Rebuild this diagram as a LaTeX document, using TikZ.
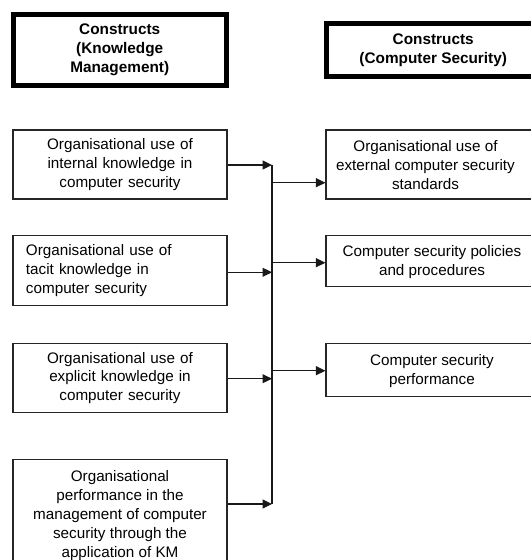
\documentclass[tikz,border=0pt]{standalone}
\usepackage{fontspec}
\setmainfont{Liberation Sans}
\usetikzlibrary{arrows.meta}
\begin{document}
\begin{tikzpicture}[x=1bp,y=-1bp,
  txt/.style={font=\fontsize{15.3}{19}\selectfont, align=center, inner sep=0pt},
  box/.style={draw=black!85, line width=1.1bp, minimum height=#1, inner ysep=0pt},
  lbox/.style={box=#1, minimum width=214bp, text width=188bp, inner xsep=13bp,
    font=\fontsize{15.3}{19}\selectfont, align=center},
  hdr/.style={draw=black, line width=5bp, inner sep=0pt,
    font=\fontsize{15.4}{19}\selectfont\bfseries, align=center},
  conn/.style={draw=black!90, line width=1.1bp},
  arr/.style={conn, -{Triangle[length=9.5bp,width=9bp]}}]
\useasboundingbox (0,0) rectangle (531,560);
\clip (0,0) rectangle (531,560);
\fill[white] (0,0) rectangle (531,560);

% headers
\node[hdr, minimum width=213bp, minimum height=71.6bp] (HL) at (119.7,50)
  {Constructs\\(Knowledge\\Management)};
\node[hdr, minimum width=213.5bp, minimum height=52.6bp] (HR) at (433.2,49.8)
  {Constructs\\(Computer Security)};

% left boxes
\node[lbox=69bp] (L1) at (120,164.5)
  {Organisational use of\\internal knowledge in\\computer security};
\node[lbox=70bp, align=left] (L2) at (120,270.7)
  {Organisational use of\\tacit knowledge in\\computer security};
\node[lbox=69.5bp] (L3) at (120,378)
  {Organisational use of\\explicit knowledge in\\computer security};
\node[box=120.5bp, minimum width=214bp] (L4) at (120,519.75) {};
\node[txt] (L4t) at (120,515.5)
  {Organisational\\performance in the\\management of computer\\security through the\\application of KM};

% right boxes
\node[box=69bp, minimum width=219bp] (R1) at (435.5,164.5) {};
\node[txt] (R1t) at (425.5,165)
  {Organisational use of\\external computer security\\standards};
\node[box=51bp, minimum width=219bp] (R2) at (435.5,261.2) {};
\node[txt] (R2t) at (432,262)
  {Computer security policies\\and procedures};
\node[box=52.7bp, minimum width=219bp] (R3) at (435.5,369.7) {};
\node[txt] (R3t) at (432,371)
  {Computer security\\performance};

% bus
\coordinate (b1) at (272,165);
\coordinate (b2) at (272,272.3);
\coordinate (b3) at (272,378.7);
\coordinate (b4) at (272,504);
\coordinate (c1) at (272,182.7);
\coordinate (c2) at (272,262.7);
\coordinate (c3) at (272,370.7);

\draw[conn] (b1) -- (b4);
\draw[arr] (L1.east |- b1) -- (b1);
\draw[arr] (L2.east |- b2) -- (b2);
\draw[arr] (L3.east |- b3) -- (b3);
\draw[arr] (L4.east |- b4) -- (b4);
\draw[arr] (c1) -- (R1.west |- c1);
\draw[arr] (c2) -- (R2.west |- c2);
\draw[arr] (c3) -- (R3.west |- c3);
\end{tikzpicture}
\end{document}
